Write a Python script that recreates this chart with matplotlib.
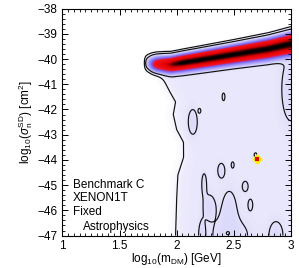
import numpy as np
import matplotlib.pyplot as plt
from matplotlib.colors import LinearSegmentedColormap
from matplotlib.ticker import MultipleLocator

plt.rcParams['font.family'] = ['Liberation Sans', 'DejaVu Sans']
plt.rcParams['mathtext.fontset'] = 'custom'
plt.rcParams['mathtext.rm'] = 'Liberation Sans'
plt.rcParams['mathtext.it'] = 'Liberation Sans:italic'

# ridge of the posterior band
ridge_x = [1.70, 1.80, 1.95, 2.20, 2.50, 2.80, 3.00]
ridge_y = [-40.15, -40.18, -40.20, -40.02, -39.80, -39.58, -39.38]
sig_x = [1.70, 2.00, 2.50, 3.00]
sig_v = [0.185, 0.185, 0.205, 0.235]
amp_x = [1.71, 1.76, 1.82, 1.90, 1.97, 2.05, 3.00]
amp_v = [0.00, 0.15, 0.45, 0.70, 0.90, 1.00, 1.00]

# left edge of the low plateau below the band
edge_y = [-40.6, -41.3, -41.7, -42.2, -42.8, -43.3, -43.9, -44.6, -45.5, -47.0]
edge_x = [1.86, 1.94, 1.99, 1.97, 2.00, 2.06, 2.06, 2.01, 2.00, 1.99]

# islands inside the plateau: centre, half width, half height, sign
isl_x = [2.14, 2.20, 2.41, 2.39, 2.49, 2.69, 2.60, 2.645, 2.24, 2.285, 2.47, 2.46, 2.45, 2.22, 2.87, 3.00]
isl_y = [-42.5, -42.05, -41.5, -44.42, -44.2, -43.8, -45.05, -45.78, -44.95, -45.85, -47.0, -46.0, -46.9, -47.0, -47.0, -41.2]
isl_w = [0.04, 0.01, 0.012, 0.03, 0.012, 0.012, 0.025, 0.02, 0.02, 0.05, 0.15, 0.06, 0.025, 0.025, 0.06, 0.08]
isl_h = [0.5, 0.08, 0.15, 0.28, 0.12, 0.08, 0.2, 0.22, 0.4, 0.45, 0.6, 0.75, 0.12, 0.5, 0.55, 1.25]
isl_s = [1, 1, 1, 1, 1, 1, 1, 1, 1, 1, 1, 1, -1, 1, 1, 1]

best_x = [2.70]
best_y = [-43.97]

label_text = ['Benchmark C', 'XENON1T', 'Fixed', 'Astrophysics']
label_x = [1.09, 1.09, 1.09, 1.177]
label_y = [-45.0, -45.52, -46.07, -46.67]

xg = np.linspace(1, 3, 600)
yg = np.linspace(-47, -38, 600)
X, Y = np.meshgrid(xg, yg)

yc = np.interp(X, ridge_x, ridge_y)
s = np.interp(X, sig_x, sig_v)
A = np.interp(X, amp_x, amp_v)
band = A * np.exp(-0.5 * ((Y - yc) / s) ** 2)

xb = np.interp(Y, edge_y[::-1], edge_x[::-1])
plat = 0.04 / (1 + np.exp(-(X - xb) / 0.03)) / (1 + np.exp(-(yc - 0.3 - Y) / 0.06))

isl = np.zeros_like(X)
for cx, cy, w, h, sg in zip(isl_x, isl_y, isl_w, isl_h, isl_s):
    isl += sg * 0.03 * np.exp(-0.5 * (((X - cx) / (w / 1.18)) ** 2 + ((Y - cy) / (h / 1.18)) ** 2))

field = band + np.clip(plat + isl, 0, 0.068)

cmap = LinearSegmentedColormap.from_list('post', [
    (0.000, (1, 1, 1)),
    (0.020, (243/255, 242/255, 253/255)),
    (0.040, (233/255, 231/255, 251/255)),
    (0.068, (220/255, 218/255, 250/255)),
    (0.100, (190/255, 183/255, 252/255)),
    (0.180, (145/255, 132/255, 246/255)),
    (0.260, (118/255, 100/255, 238/255)),
    (0.320, (180/255, 45/255, 150/255)),
    (0.360, (245/255, 20/255, 30/255)),
    (0.720, (228/255, 0, 0)),
    (0.870, (120/255, 0, 0)),
    (0.960, (20/255, 0, 0)),
    (1.000, (0, 0, 0)),
])

fig = plt.figure(figsize=(2.99, 2.68), dpi=100)
ax = fig.add_axes([0.209, 0.121, 0.764, 0.847])
ax.imshow(field, extent=[1, 3, -47, -38], origin='lower', aspect='auto',
          cmap=cmap, vmin=0, vmax=1, interpolation='bilinear')
ax.contour(X, Y, field, levels=[0.02, 0.055], colors='#111111', linewidths=0.85)

ax.scatter(best_x, best_y, marker='D', s=30, color='#ffe600', edgecolors='#f5f07a', linewidths=0.5, zorder=5)
ax.scatter(best_x, best_y, marker='s', s=5, color='#e00000', linewidths=0, zorder=6)

for t, tx, ty in zip(label_text, label_x, label_y):
    ax.text(tx, ty, t, fontsize=8.5, va='center', ha='left')

ax.set_xlim(1, 3)
ax.set_ylim(-47, -38)
ax.set_xticks([1, 1.5, 2, 2.5, 3])
ax.set_xticklabels(['1', '1.5', '2', '2.5', '3'])
ax.set_yticks(np.arange(-47, -37, 1))
ax.xaxis.set_minor_locator(MultipleLocator(0.05))
ax.yaxis.set_minor_locator(MultipleLocator(0.2))
ax.tick_params(which='both', direction='in', top=True, right=True, labelsize=8.5)
ax.tick_params(which='major', length=4, width=0.7)
ax.tick_params(which='minor', length=2, width=0.6)
for sp in ax.spines.values():
    sp.set_linewidth(0.8)

ax.set_xlabel(r'log$_{10}$(m$_{\rm DM}$) [GeV]', fontsize=8.5, labelpad=-1)
ax.set_ylabel(r'log$_{10}$($\sigma_{\rm n}^{\rm SD}$) [cm$^2$]', fontsize=8.5, labelpad=2)

fig.savefig('out.png', dpi=100)
